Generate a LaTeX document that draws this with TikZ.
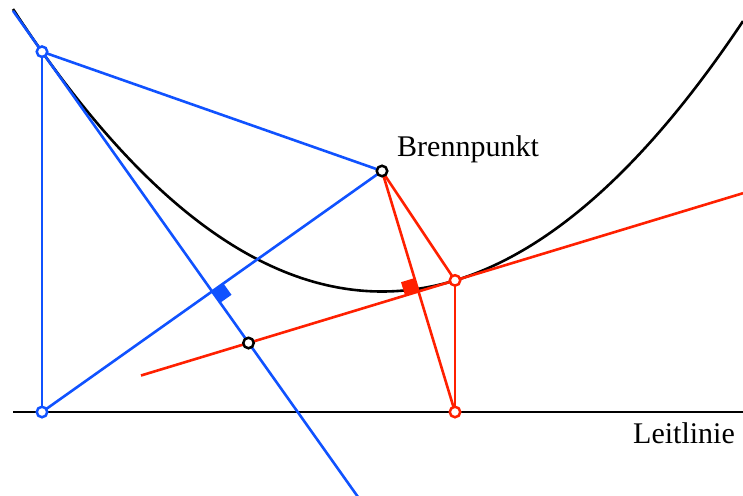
\documentclass[tikz,border=0pt]{standalone}
\usepackage{fontspec}
\setmainfont{Liberation Serif}
\definecolor{cblue}{RGB}{16,82,255}
\definecolor{cred}{RGB}{255,32,0}
\tikzset{
  ln/.style={line width=2.6pt},
  pt/.style={circle, draw=#1, fill=white, line width=2.5pt, minimum size=10.5pt, inner sep=0pt},
  lbl/.style={font=\fontsize{30}{36}\selectfont, inner sep=0pt}
}
\begin{document}
\begin{tikzpicture}[x=1pt,y=-1pt]
\useasboundingbox (0,0) rectangle (743,495);
% key points (pixel coordinates)
\coordinate (F) at (382,171);
\coordinate (D1) at (42,412);
\coordinate (P1) at (42,51.7);
\coordinate (D2) at (455,412);
\coordinate (P2) at (455,280.4);
\coordinate (X) at (248.5,343.0);
\coordinate (M1) at (212,291.5);
\coordinate (M2) at (418.5,291.5);
\coordinate (T1a) at (13,10.8);
\coordinate (T1b) at (358,497);
\coordinate (T2a) at (141,375.5);
\coordinate (T2b) at (743,193.2);
\coordinate (La) at (13,412);
\coordinate (Lb) at (743,412);
% directrix
\draw[line width=2.8pt] (La) -- (Lb);
% parabola
\draw[line width=2.6pt] plot[domain=13:743, samples=150, smooth] (\x, {291.5-((\x-382)/482)*(\x-382)});
% blue construction
\draw[ln, cblue] (T1a) -- (T1b);
\draw[ln, cblue] (P1) -- (F);
\draw[ln, cblue] (P1) -- (D1);
\draw[ln, cblue] (D1) -- (F);
% red construction
\draw[ln, cred] (T2a) -- (T2b);
\draw[ln, cred] (F) -- (P2);
\draw[ln, cred] (F) -- (D2);
\draw[ln, cred] (P2) -- (D2);
% right angle marks
\fill[cblue] (M1) -- ++(11.4,-8.1) -- ++(8.1,11.4) -- ++(-11.4,8.1) -- cycle;
\fill[cred] (M2) -- ++(-4.1,-13.4) -- ++(-13.4,4.1) -- ++(4.1,13.4) -- cycle;
% points
\node[pt=cblue] (nP1) at (P1) {};
\node[pt=cblue] (nD1) at (D1) {};
\node[pt=black] (nF) at (F) {};
\node[pt=black] (nX) at (X) {};
\node[pt=cred] (nP2) at (P2) {};
\node[pt=cred] (nD2) at (D2) {};
% labels
\node[lbl, anchor=base west] (lb1) at (397,156) {Brennpunkt};
\node[lbl, anchor=base east] (lb2) at (735,443) {Leitlinie};
\end{tikzpicture}
\end{document}
